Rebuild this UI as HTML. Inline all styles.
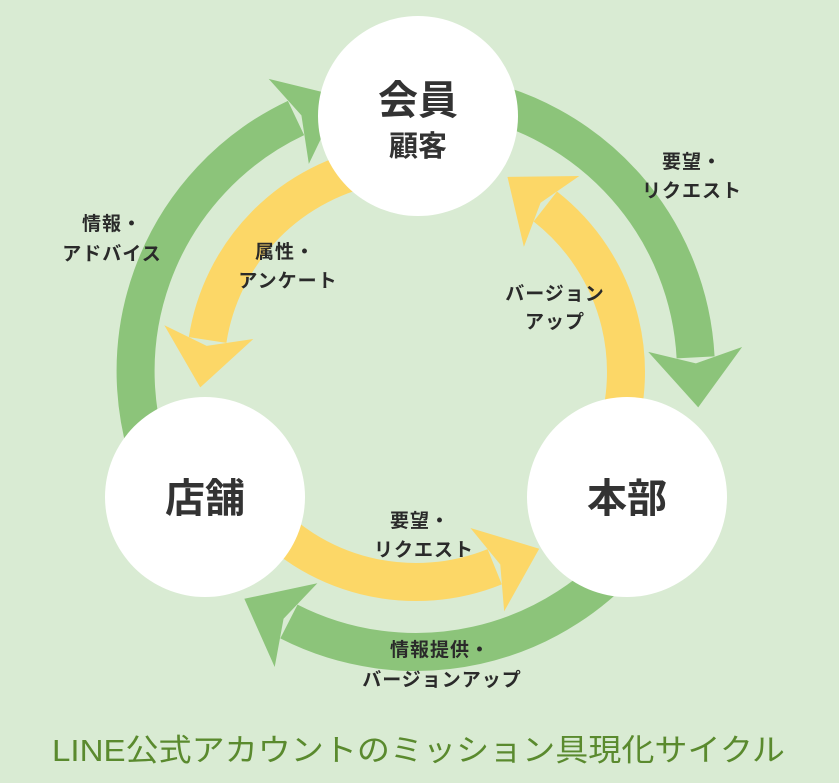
<!DOCTYPE html>
<html><head><meta charset="utf-8"><style>
html,body{margin:0;padding:0;background:#d9ebd3;}
svg{display:block}
text{font-family:"Liberation Sans","Noto Sans CJK JP",sans-serif;}
</style></head><body>
<svg width="839" height="783" viewBox="0 0 839 783" xmlns="http://www.w3.org/2000/svg">
<defs>
<marker id="hg" markerUnits="userSpaceOnUse" markerWidth="140" markerHeight="140" refX="0" refY="0" orient="auto" viewBox="-20 -70 140 140" overflow="visible">
<path d="M-8,-47 L50,0 L-8,47 L6,0 Z" fill="#8cc47a"/>
</marker>
<marker id="hy" markerUnits="userSpaceOnUse" markerWidth="140" markerHeight="140" refX="0" refY="0" orient="auto" viewBox="-20 -70 140 140" overflow="visible">
<path d="M-8,-45 L48,0 L-8,45 L6,0 Z" fill="#fcd767"/>
</marker>
</defs>
<rect width="839" height="783" fill="#d9ebd3"/>
<g fill="none" stroke-width="38">
<path d="M464.6,96.3 A280,280 0 0 1 695.6,357.4" stroke="#8cc47a" marker-end="url(#hg)"/>
<path d="M636.6,544.4 A280,280 0 0 1 288.9,621.5" stroke="#8cc47a" marker-end="url(#hg)"/>
<path d="M162.2,490.3 A280,280 0 0 1 296,118" stroke="#8cc47a" marker-end="url(#hg)"/>
<path d="M379.5,165.2 A210,210 0 0 0 207.6,340" stroke="#fcd767" marker-end="url(#hy)"/>
<path d="M255.1,507 A210,210 0 0 0 494.7,566.7" stroke="#fcd767" marker-end="url(#hy)"/>
<path d="M606.3,460.7 A210,210 0 0 0 545.3,206.5" stroke="#fcd767" marker-end="url(#hy)"/>
</g>
<circle cx="418" cy="116" r="100" fill="#fff"/>
<circle cx="205" cy="497" r="100" fill="#fff"/>
<circle cx="627" cy="497" r="100" fill="#fff"/>
<g fill="#333" font-weight="bold" text-anchor="middle">
<text x="418" y="114" font-size="40">会員</text>
<text x="418" y="156" font-size="29">顧客</text>
<text x="205" y="512" font-size="40">店舗</text>
<text x="627" y="512" font-size="40">本部</text>
</g>
<g fill="#2a2a2a" font-weight="bold" font-size="19" text-anchor="middle" letter-spacing="1">
<text x="692" y="168">要望・</text>
<text x="692" y="197">リクエスト</text>
<text x="112" y="230">情報・</text>
<text x="112" y="260">アドバイス</text>
<text x="285" y="258">属性・</text>
<text x="288" y="287">アンケート</text>
<text x="555" y="300">バージョン</text>
<text x="555" y="328">アップ</text>
<text x="420" y="527">要望・</text>
<text x="424" y="556">リクエスト</text>
<text x="440" y="656">情報提供・</text>
<text x="442" y="686">バージョンアップ</text>
</g>
<text x="52" y="761" font-size="31" fill="#5a8a2e" textLength="733" lengthAdjust="spacingAndGlyphs">LINE公式アカウントのミッション具現化サイクル</text>
</svg>
</body></html>
